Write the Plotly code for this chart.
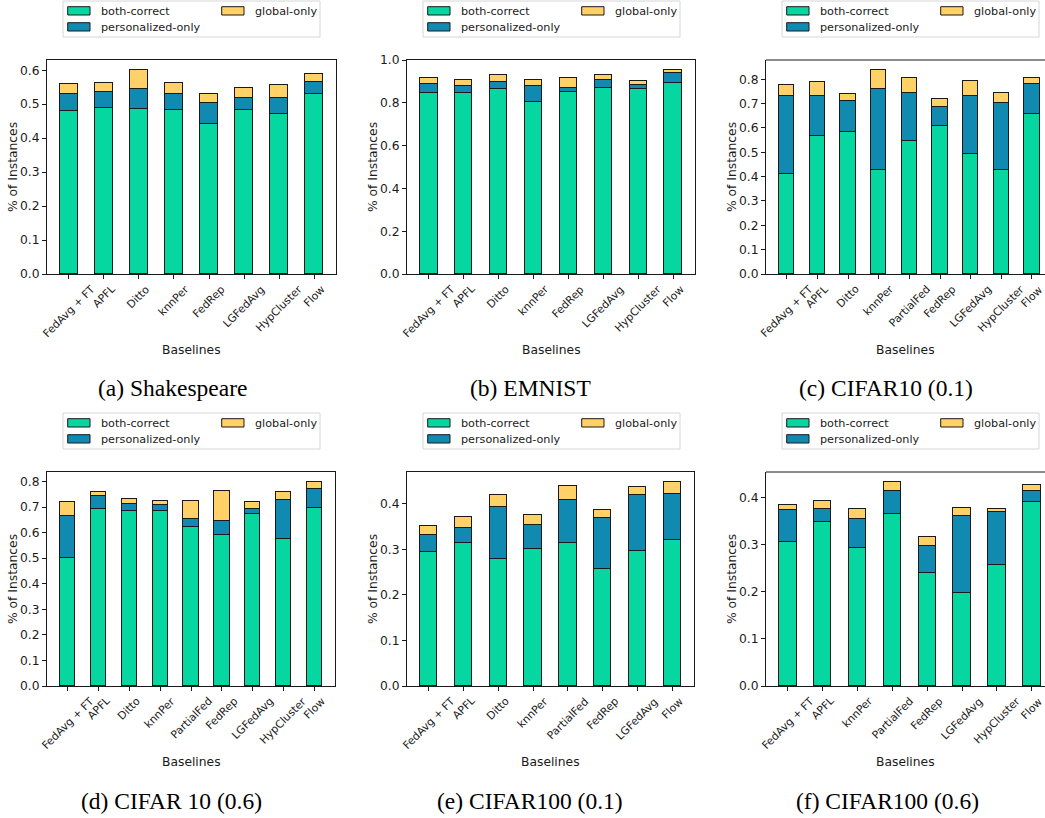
import plotly.graph_objects as go

W, H = 1045, 818

# ---------------- data ----------------
series_names = ["both-correct", "personalized-only", "global-only"]
series_colors = ["#06D6A0", "#118AB2", "#FFD166"]

shakespeare_labels = ["FedAvg + FT", "APFL", "Ditto", "knnPer", "FedRep", "LGFedAvg", "HypCluster", "Flow"]
shakespeare_both = [0.480, 0.490, 0.485, 0.483, 0.443, 0.482, 0.472, 0.530]
shakespeare_pers = [0.049, 0.045, 0.060, 0.046, 0.060, 0.035, 0.046, 0.035]
shakespeare_glob = [0.030, 0.027, 0.055, 0.033, 0.028, 0.031, 0.038, 0.024]

emnist_labels = ["FedAvg + FT", "APFL", "Ditto", "knnPer", "FedRep", "LGFedAvg", "HypCluster", "Flow"]
emnist_both = [0.847, 0.848, 0.864, 0.805, 0.853, 0.872, 0.867, 0.894]
emnist_pers = [0.042, 0.032, 0.034, 0.075, 0.016, 0.036, 0.016, 0.047]
emnist_glob = [0.028, 0.026, 0.032, 0.026, 0.047, 0.022, 0.020, 0.012]

cifar10_01_labels = ["FedAvg + FT", "APFL", "Ditto", "knnPer", "PartialFed", "FedRep", "LGFedAvg", "HypCluster", "Flow"]
cifar10_01_both = [0.412, 0.567, 0.583, 0.427, 0.546, 0.607, 0.493, 0.427, 0.657]
cifar10_01_pers = [0.317, 0.163, 0.128, 0.332, 0.196, 0.080, 0.236, 0.276, 0.124]
cifar10_01_glob = [0.048, 0.059, 0.029, 0.078, 0.064, 0.032, 0.064, 0.039, 0.022]

cifar10_06_labels = ["FedAvg + FT", "APFL", "Ditto", "knnPer", "PartialFed", "FedRep", "LGFedAvg", "HypCluster", "Flow"]
cifar10_06_both = [0.499, 0.694, 0.684, 0.684, 0.620, 0.592, 0.673, 0.574, 0.697]
cifar10_06_pers = [0.165, 0.049, 0.026, 0.022, 0.034, 0.055, 0.019, 0.153, 0.074]
cifar10_06_glob = [0.056, 0.017, 0.020, 0.018, 0.069, 0.116, 0.028, 0.030, 0.026]

cifar100_01_labels = ["FedAvg + FT", "APFL", "Ditto", "knnPer", "PartialFed", "FedRep", "LGFedAvg", "Flow"]
cifar100_01_both = [0.294, 0.314, 0.279, 0.301, 0.314, 0.256, 0.295, 0.320]
cifar100_01_pers = [0.037, 0.033, 0.114, 0.053, 0.095, 0.112, 0.123, 0.102]
cifar100_01_glob = [0.020, 0.024, 0.027, 0.021, 0.030, 0.018, 0.018, 0.025]

cifar100_06_labels = ["FedAvg + FT", "APFL", "knnPer", "PartialFed", "FedRep", "LGFedAvg", "HypCluster", "Flow"]
cifar100_06_both = [0.305, 0.349, 0.294, 0.365, 0.240, 0.198, 0.257, 0.391]
cifar100_06_pers = [0.068, 0.026, 0.061, 0.049, 0.058, 0.164, 0.113, 0.023]
cifar100_06_glob = [0.012, 0.017, 0.022, 0.019, 0.018, 0.016, 0.005, 0.012]

captions = ["(a) Shakespeare", "(b) EMNIST", "(c) CIFAR10 (0.1)",
            "(d) CIFAR 10 (0.6)", "(e) CIFAR100 (0.1)", "(f) CIFAR100 (0.6)"]

panels = [
    (shakespeare_labels, shakespeare_both, shakespeare_pers, shakespeare_glob),
    (emnist_labels, emnist_both, emnist_pers, emnist_glob),
    (cifar10_01_labels, cifar10_01_both, cifar10_01_pers, cifar10_01_glob),
    (cifar10_06_labels, cifar10_06_both, cifar10_06_pers, cifar10_06_glob),
    (cifar100_01_labels, cifar100_01_both, cifar100_01_pers, cifar100_01_glob),
    (cifar100_06_labels, cifar100_06_both, cifar100_06_pers, cifar100_06_glob),
]

# ---------------- layout geometry (pixels) ----------------
x_px = [(47, 336), (407, 695), (766, 1045), (47, 335), (407, 694), (766, 1045)]
y_px = [(60, 274)] * 3 + [(472, 686)] * 3
cut_right = [False, False, True, False, False, True]
px_per_unit = [35.0, 35.0, 30.66, 35.0, 35.0, 34.86]
dticks = [0.1, 0.2, 0.1, 0.1, 0.1, 0.1]
caption_pos = [(172, 388), (530, 388), (886, 388), (171, 801), (530, 801), (887, 801)]

FONT = "DejaVu Sans"
SERIF = "Liberation Serif"
EDGE = "#1a1a1a"
TXT = "#1a1a1a"


def px(x):
    return x / W


def py(y):
    return 1 - y / H


fig = go.Figure()
shapes = []
annotations = []

for i, (labels, both, pers, glob) in enumerate(panels):
    n = len(labels)
    xs = list(range(n))
    ax = "" if i == 0 else str(i + 1)
    xref, yref = "x" + ax, "y" + ax
    for name, vals, col in zip(series_names, [both, pers, glob], series_colors):
        fig.add_trace(go.Bar(
            x=xs, y=vals, width=0.5, name=name, showlegend=False,
            marker=dict(color=col, line=dict(color=EDGE, width=1.1)),
            xaxis=xref, yaxis=yref,
        ))
    totals = [a + b + c for a, b, c in zip(both, pers, glob)]
    ymax = max(totals) * 1.05
    x0, x1 = x_px[i]
    yt, yb = y_px[i]
    lo = -(0.25 + 0.05 * (n - 1 + 0.5))
    if cut_right[i]:
        hi = lo + (x1 - x0) / px_per_unit[i]
    else:
        hi = (n - 1) - lo
    fig.layout["xaxis" + ax] = dict(
        domain=[px(x0), px(x1)], anchor=yref, range=[lo, hi], automargin=False,
        tickmode="array", tickvals=xs, showticklabels=False,
        ticks="outside", ticklen=4, tickwidth=1, tickcolor=EDGE,
        showline=True, linecolor=EDGE, linewidth=1,
        mirror=(not cut_right[i]), showgrid=False, zeroline=False,
    )
    fig.layout["yaxis" + ax] = dict(
        domain=[py(yb), py(yt)], anchor=xref, range=[0, ymax], automargin=False,
        dtick=dticks[i], tick0=0, tickformat=".1f",
        ticks="outside", ticklen=4, tickwidth=1, tickcolor=EDGE,
        showline=True, linecolor=EDGE, linewidth=1,
        mirror=(not cut_right[i]), showgrid=False, zeroline=False,
        tickfont=dict(family=FONT, size=12.3, color=TXT),
    )
    if cut_right[i]:
        shapes.append(dict(type="line", xref="paper", yref="paper",
                           x0=px(x0), x1=1, y0=py(yt), y1=py(yt),
                           line=dict(color=EDGE, width=1)))

    # rotated category labels, centred on their ticks (matplotlib style)
    for xi, lab in zip(xs, labels):
        annotations.append(dict(text=lab, x=xi, xref=xref, y=py(yb + 6), yref="paper",
                                textangle=-45, showarrow=False, xanchor="center", yanchor="top",
                                font=dict(family=FONT, size=10.8, color=TXT)))

    # axis titles
    annotations.append(dict(text="% of Instances", x=px(x0 - 34), y=py((yt + yb) / 2),
                            xref="paper", yref="paper", textangle=-90, showarrow=False,
                            xanchor="center", yanchor="middle",
                            font=dict(family=FONT, size=12.3, color=TXT)))
    annotations.append(dict(text="Baselines", x=px((x0 + min(x1, x0 + (n - 1 - 2 * lo) * px_per_unit[i])) / 2),
                            y=py(yb + 76), xref="paper", yref="paper", showarrow=False,
                            xanchor="center", yanchor="middle",
                            font=dict(family=FONT, size=12.3, color=TXT)))
    # caption
    cx, cy = caption_pos[i]
    annotations.append(dict(text=captions[i], x=px(cx), y=py(cy), xref="paper", yref="paper",
                            showarrow=False, xanchor="center", yanchor="middle",
                            font=dict(family=SERIF, size=23.5, color="black")))

    # legend (drawn manually: 2 columns)
    L = x0 + 16
    T = yt - 59
    shapes.append(dict(type="rect", xref="paper", yref="paper",
                       x0=px(L), x1=px(L + 257), y0=py(T + 36), y1=py(T),
                       line=dict(color="#d6d6d6", width=1), fillcolor="rgba(255,255,255,0.8)"))
    entries = [(0, 0, 0), (1, 0, 1), (2, 1, 0)]  # series index, column, row
    for si, colm, row in entries:
        sx = L + (4.7 if colm == 0 else 158.7)
        sy = T + (5.7 if row == 0 else 21.7)
        shapes.append(dict(type="rect", xref="paper", yref="paper",
                           x0=px(sx), x1=px(sx + 22.3), y0=py(sy + 8.3), y1=py(sy),
                           line=dict(color=EDGE, width=1), fillcolor=series_colors[si]))
        annotations.append(dict(text=series_names[si], x=px(sx + 31.6), y=py(sy + 4.5),
                                xref="paper", yref="paper", showarrow=False,
                                xanchor="left", yanchor="middle",
                                font=dict(family=FONT, size=11.2, color=TXT)))

fig.update_layout(
    width=W, height=H, barmode="stack", bargap=0,
    margin=dict(l=0, r=0, t=0, b=0),
    paper_bgcolor="white", plot_bgcolor="white",
    shapes=shapes, annotations=annotations,
    font=dict(family=FONT, color=TXT),
)

fig.write_html("out.html", config={"displayModeBar": False},
               post_script="document.body.style.margin='0';")
